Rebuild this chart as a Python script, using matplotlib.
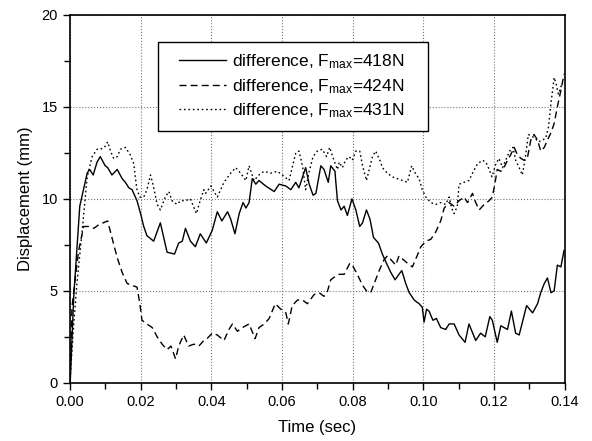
import matplotlib
matplotlib.use("Agg")
import matplotlib.pyplot as plt
from matplotlib.patches import Rectangle
from matplotlib.ticker import MultipleLocator, FormatStrFormatter

plt.rcParams['font.family'] = ['Liberation Sans', 'DejaVu Sans']
plt.rcParams['mathtext.fontset'] = 'custom'
plt.rcParams['mathtext.rm'] = 'Liberation Sans'
plt.rcParams['mathtext.it'] = 'Liberation Sans:italic'

# F_max = 418N (solid)
t_418 = [0.0, 0.0001, 0.0011, 0.0028, 0.0049, 0.0056, 0.0066, 0.0077, 0.0086, 0.0100,
         0.0107, 0.0119, 0.0134, 0.0148, 0.0157, 0.0167, 0.0176, 0.0190, 0.0200, 0.0209,
         0.0218, 0.0237, 0.0256, 0.0275, 0.0296, 0.0308, 0.0318, 0.0327, 0.0341, 0.0355,
         0.0369, 0.0386, 0.0403, 0.0417, 0.0430, 0.0446, 0.0455, 0.0467, 0.0479, 0.0490,
         0.0498, 0.0507, 0.0516, 0.0526, 0.0535, 0.0554, 0.0578, 0.0592, 0.0611, 0.0625,
         0.0639, 0.0648, 0.0667, 0.0677, 0.0688, 0.0696, 0.0710, 0.0719, 0.0731, 0.0738,
         0.0750, 0.0752, 0.0757, 0.0767, 0.0776, 0.0785, 0.0798, 0.0809, 0.0820, 0.0828,
         0.0839, 0.0849, 0.0859, 0.0873, 0.0884, 0.0898, 0.0908, 0.0920, 0.0931, 0.0939,
         0.0950, 0.0960, 0.0974, 0.0988, 0.0997, 0.1002, 0.1009, 0.1016, 0.1027, 0.1037,
         0.1049, 0.1063, 0.1073, 0.1087, 0.1101, 0.1118, 0.1129, 0.1148, 0.1162, 0.1175,
         0.1188, 0.1195, 0.1209, 0.1219, 0.1238, 0.1249, 0.1261, 0.1271, 0.1292, 0.1309,
         0.1323, 0.1332, 0.1342, 0.1351, 0.1361, 0.1370, 0.1379, 0.1389, 0.1398]
d_418 = [0.0, 0.0, 4.7, 9.6, 11.4, 11.6, 11.3, 12.0, 12.3, 11.8,
         11.7, 11.3, 11.6, 11.1, 10.9, 10.6, 10.5, 9.9, 9.2, 8.5,
         8.0, 7.7, 8.7, 7.1, 7.0, 7.6, 7.7, 8.4, 7.7, 7.4,
         8.1, 7.6, 8.3, 9.3, 8.8, 9.3, 8.9, 8.1, 9.2, 9.8,
         9.5, 9.8, 11.1, 10.8, 11.0, 10.7, 10.4, 10.8, 10.7, 10.5,
         10.9, 10.6, 11.7, 10.8, 10.2, 10.3, 11.8, 11.6, 10.9, 11.8,
         11.5, 11.0, 9.9, 9.4, 9.6, 9.1, 10.0, 9.4, 8.5, 8.7,
         9.4, 8.9, 7.9, 7.6, 7.0, 6.4, 6.0, 5.6, 5.9, 6.1,
         5.4, 4.9, 4.5, 4.3, 4.1, 3.3, 4.0, 3.9, 3.4, 3.5,
         3.0, 2.9, 3.2, 3.2, 2.6, 2.2, 3.2, 2.3, 2.7, 2.5,
         3.6, 3.4, 2.2, 3.1, 2.9, 3.9, 2.7, 2.6, 4.2, 3.8,
         4.3, 4.9, 5.4, 5.7, 4.9, 5.0, 6.4, 6.3, 7.2]

# F_max = 424N (dashed)
t_424 = [0.0, 0.0006, 0.0016, 0.0025, 0.0039, 0.0053, 0.0068, 0.0082, 0.0107, 0.0119,
         0.0134, 0.0148, 0.0162, 0.0176, 0.0190, 0.0198, 0.0204, 0.0218, 0.0233, 0.0247,
         0.0261, 0.0275, 0.0286, 0.0299, 0.0308, 0.0322, 0.0336, 0.0351, 0.0365, 0.0379,
         0.0388, 0.0403, 0.0417, 0.0436, 0.0450, 0.0460, 0.0474, 0.0488, 0.0507, 0.0524,
         0.0535, 0.0550, 0.0564, 0.0581, 0.0597, 0.0611, 0.0618, 0.0629, 0.0644, 0.0658,
         0.0672, 0.0691, 0.0705, 0.0719, 0.0729, 0.0738, 0.0752, 0.0762, 0.0776, 0.0792,
         0.0799, 0.0813, 0.0828, 0.0839, 0.0851, 0.0861, 0.0875, 0.0889, 0.0898, 0.0908,
         0.0922, 0.0931, 0.0943, 0.0955, 0.0969, 0.0980, 0.0993, 0.1007, 0.1021, 0.1035,
         0.1049, 0.1059, 0.1073, 0.1087, 0.1101, 0.1115, 0.1125, 0.1139, 0.1148, 0.1158,
         0.1172, 0.1186, 0.1195, 0.1203, 0.1209, 0.1219, 0.1228, 0.1238, 0.1247, 0.1257,
         0.1266, 0.1276, 0.1285, 0.1294, 0.1304, 0.1313, 0.1323, 0.1332, 0.1342, 0.1351,
         0.1361, 0.1370, 0.1379, 0.1389, 0.1398]
d_424 = [0.0, 4.1, 5.8, 7.2, 8.5, 8.5, 8.4, 8.6, 8.8, 7.9,
         6.8, 6.0, 5.4, 5.3, 5.2, 4.3, 3.4, 3.2, 3.0, 2.5,
         2.1, 1.8, 2.0, 1.3, 2.0, 2.6, 2.0, 2.1, 2.0, 2.3,
         2.4, 2.7, 2.6, 2.3, 2.9, 3.2, 2.8, 3.0, 3.2, 2.4,
         3.0, 3.2, 3.5, 4.3, 4.0, 3.8, 3.2, 4.2, 4.5, 4.5,
         4.3, 4.8, 4.9, 4.7, 5.0, 5.6, 5.8, 5.9, 5.9, 6.5,
         6.4, 5.9, 5.3, 5.0, 4.9, 5.4, 6.1, 6.7, 6.9, 6.7,
         6.4, 6.9, 6.7, 6.5, 6.3, 6.8, 7.4, 7.7, 7.8, 8.2,
         8.8, 9.5, 9.8, 9.6, 9.9, 10.1, 9.8, 10.3, 9.8, 9.4,
         9.7, 9.9, 10.1, 10.9, 11.6, 11.5, 11.7, 12.1, 12.4, 12.8,
         12.4, 12.2, 12.1, 12.2, 13.2, 13.5, 13.2, 12.6, 12.8, 13.2,
         13.6, 14.1, 15.0, 15.9, 16.8]

# F_max = 431N (dotted)
t_431 = [0.0, 0.0011, 0.0020, 0.0035, 0.0049, 0.0063, 0.0077, 0.0086, 0.0098, 0.0107,
         0.0115, 0.0124, 0.0134, 0.0143, 0.0157, 0.0171, 0.0181, 0.0185, 0.0190, 0.0198,
         0.0209, 0.0218, 0.0228, 0.0235, 0.0247, 0.0256, 0.0270, 0.0280, 0.0289, 0.0303,
         0.0313, 0.0327, 0.0341, 0.0358, 0.0367, 0.0379, 0.0384, 0.0399, 0.0408, 0.0417,
         0.0436, 0.0455, 0.0469, 0.0483, 0.0498, 0.0507, 0.0521, 0.0535, 0.0549, 0.0568,
         0.0587, 0.0601, 0.0620, 0.0629, 0.0639, 0.0648, 0.0658, 0.0667, 0.0677, 0.0688,
         0.0700, 0.0714, 0.0726, 0.0735, 0.0747, 0.0757, 0.0762, 0.0771, 0.0780, 0.0790,
         0.0799, 0.0809, 0.0820, 0.0828, 0.0839, 0.0848, 0.0856, 0.0865, 0.0877, 0.0884,
         0.0898, 0.0912, 0.0926, 0.0941, 0.0955, 0.0967, 0.0977, 0.0988, 0.0997, 0.1007,
         0.1021, 0.1035, 0.1049, 0.1063, 0.1073, 0.1080, 0.1087, 0.1096, 0.1101, 0.1115,
         0.1129, 0.1139, 0.1153, 0.1167, 0.1177, 0.1186, 0.1194, 0.1205, 0.1214, 0.1224,
         0.1233, 0.1244, 0.1254, 0.1261, 0.1271, 0.1280, 0.1288, 0.1297, 0.1307, 0.1316,
         0.1325, 0.1337, 0.1346, 0.1354, 0.1361, 0.1370, 0.1375, 0.1382, 0.1389, 0.1395]
d_431 = [0.0, 3.2, 5.4, 8.3, 11.2, 12.3, 12.7, 12.7, 12.8, 13.1,
         12.6, 12.2, 12.3, 12.7, 12.8, 12.4, 11.9, 11.2, 10.5, 10.1,
         10.1, 10.5, 11.3, 10.8, 9.7, 9.4, 10.1, 10.4, 9.9, 9.7,
         9.9, 9.9, 10.0, 9.2, 9.8, 10.5, 10.3, 10.7, 10.4, 10.1,
         10.9, 11.4, 11.7, 11.4, 11.0, 11.8, 11.0, 11.3, 11.5, 11.4,
         11.5, 11.3, 11.0, 11.7, 12.5, 12.6, 11.8, 10.5, 11.5, 12.3,
         12.6, 12.7, 12.3, 12.8, 12.1, 11.6, 12.0, 11.7, 12.1, 12.3,
         12.1, 12.6, 12.6, 11.8, 11.0, 11.7, 12.3, 12.6, 12.1, 11.7,
         11.4, 11.2, 11.1, 11.0, 10.9, 11.8, 11.4, 11.1, 10.5, 10.1,
         9.8, 9.7, 9.8, 9.7, 10.1, 9.5, 9.2, 9.6, 10.8, 10.9,
         11.0, 11.4, 11.9, 12.1, 12.0, 11.6, 11.2, 11.9, 12.2, 11.7,
         12.1, 12.6, 12.8, 12.1, 11.7, 11.3, 12.2, 13.5, 13.4, 13.3,
         13.1, 13.2, 13.3, 13.9, 15.2, 16.6, 16.3, 15.7, 16.1, 16.3]

labels = ['difference, F$_{\\mathrm{max}}$=418N',
          'difference, F$_{\\mathrm{max}}$=424N',
          'difference, F$_{\\mathrm{max}}$=431N']

fig = plt.figure(figsize=(5.92, 4.41), dpi=100)
ax = fig.add_axes([0.118, 0.132, 0.836, 0.834])

ax.plot(t_418, d_418, color='black', lw=1.0, ls='-', label=labels[0])
ax.plot(t_424, d_424, color='black', lw=1.0, ls=(0, (5, 3)), label=labels[1])
ax.plot(t_431, d_431, color='black', lw=1.0, ls=(0, (1.2, 2)), label=labels[2])

ax.set_xlim(0, 0.14)
ax.set_ylim(0, 20)
ax.xaxis.set_major_locator(MultipleLocator(0.02))
ax.xaxis.set_minor_locator(MultipleLocator(0.01))
ax.yaxis.set_major_locator(MultipleLocator(5))
ax.yaxis.set_minor_locator(MultipleLocator(2.5))
ax.xaxis.set_major_formatter(FormatStrFormatter('%.2f'))
ax.tick_params(which='both', direction='out', top=False, right=False, labelsize=10.5)
ax.tick_params(which='major', length=5, width=1)
ax.tick_params(which='minor', length=4, width=1)
ax.grid(True, which='major', ls=':', color='#777777', lw=0.8)
for s in ax.spines.values():
    s.set_linewidth(1.2)

ax.set_xlabel('Time (sec)', fontsize=12, labelpad=8)
ax.set_ylabel('Displacement (mm)', fontsize=12, labelpad=6)

# legend box drawn separately so it can have wider side margins
box = Rectangle((0.178, 0.684), 0.546, 0.242, transform=ax.transAxes,
                facecolor='white', edgecolor='black', lw=1.0, zorder=4)
ax.add_patch(box)
leg = ax.legend(loc='upper left', bbox_to_anchor=(0.221, 0.898), fontsize=12.5,
                handlelength=2.7, handletextpad=0.35, frameon=False,
                borderpad=0, labelspacing=0.33, borderaxespad=0)
leg.set_zorder(5)

fig.savefig('out.png', dpi=100)
